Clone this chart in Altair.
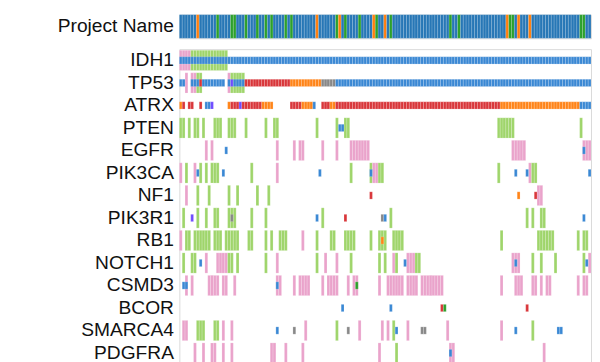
import altair as alt
import pandas as pd

N_SAMPLES = 145
GENES = ["IDH1", "TP53", "ATRX", "PTEN", "EGFR", "PIK3CA", "NF1", "PIK3R1",
         "RB1", "NOTCH1", "CSMD3", "BCOR", "SMARCA4", "PDGFRA"]

# Project Name track: default project colour is blue, with these sample columns
PROJECT_ORANGE = [6, 48, 56, 68, 72, 115, 119, 123]
PROJECT_GREEN = [13, 18, 19, 23, 27, 30, 32, 37, 39, 55, 58, 63, 69, 74, 95, 98,
                 116, 117, 141, 142]

# Copy-number runs (first column, last column, kind)  G = green, L = pink
IDH1_CNV = [(0, 3, "L"), (4, 16, "G")]
TP53_CNV = [(2, 2, "L"), (4, 5, "L"), (6, 7, "G"), (17, 17, "L"), (18, 22, "G")]
ATRX_CNV = []
PTEN_CNV = [(0, 1, "G"), (3, 3, "G"), (5, 6, "G"), (8, 8, "G"), (12, 14, "G"),
            (17, 19, "G"), (23, 23, "G"), (30, 30, "G"), (33, 34, "G"), (48, 48, "G"),
            (55, 55, "G"), (58, 59, "G"), (112, 117, "G"), (141, 141, "G")]
EGFR_CNV = [(9, 9, "L"), (11, 11, "L"), (34, 34, "L"), (40, 40, "L"), (42, 43, "L"),
            (50, 50, "L"), (55, 55, "L"), (60, 66, "L"), (117, 121, "L"), (142, 144, "L")]
PIK3CA_CNV = [(0, 0, "L"), (2, 2, "G"), (5, 5, "L"), (7, 7, "G"), (9, 9, "G"),
              (11, 13, "G"), (25, 25, "G"), (34, 34, "L"), (60, 60, "G"), (67, 67, "G"),
              (68, 69, "L"), (70, 71, "G"), (112, 112, "G"), (123, 123, "L"), (124, 125, "G")]
NF1_CNV = [(2, 2, "L"), (6, 6, "G"), (10, 10, "G"), (17, 17, "G"), (20, 20, "G"),
           (27, 27, "G"), (31, 31, "G"), (126, 127, "L")]
PIK3R1_CNV = [(1, 1, "G"), (6, 6, "G"), (9, 9, "G"), (12, 13, "G"), (17, 19, "G"),
              (25, 25, "G"), (30, 30, "G"), (50, 50, "G"), (74, 74, "G"), (122, 122, "G"),
              (124, 124, "G"), (127, 128, "G")]
RB1_CNV = [(0, 0, "L"), (2, 3, "G"), (5, 10, "G"), (12, 14, "G"), (16, 20, "G"),
           (24, 25, "G"), (30, 30, "G"), (32, 32, "G"), (35, 37, "G"), (43, 43, "L"),
           (48, 48, "G"), (53, 54, "G"), (58, 61, "G"), (67, 67, "G"), (70, 72, "G"),
           (75, 78, "G"), (113, 113, "G"), (126, 131, "G"), (140, 140, "G"), (142, 143, "G")]
NOTCH1_CNV = [(1, 1, "G"), (4, 5, "G"), (9, 9, "L"), (13, 16, "L"), (17, 18, "G"),
              (20, 20, "G"), (30, 30, "G"), (34, 34, "L"), (48, 48, "G"), (51, 51, "L"),
              (55, 55, "L"), (60, 60, "G"), (70, 70, "G"), (72, 72, "G"), (75, 75, "L"),
              (76, 76, "G"), (80, 82, "L"), (83, 84, "G"), (117, 119, "L"), (124, 124, "G"),
              (127, 127, "G"), (132, 132, "G"), (142, 142, "G"), (144, 144, "L")]
CSMD3_CNV = [(2, 2, "L"), (4, 4, "L"), (10, 13, "L"), (15, 16, "L"), (19, 19, "L"),
             (34, 35, "L"), (40, 40, "L"), (42, 45, "L"), (50, 50, "L"), (52, 55, "L"),
             (59, 59, "L"), (61, 62, "L"), (70, 70, "L"), (73, 78, "L"), (80, 83, "L"),
             (85, 92, "L"), (113, 113, "L"), (118, 120, "L"), (124, 125, "L"), (127, 127, "L"),
             (129, 130, "L"), (140, 140, "L"), (142, 143, "L")]
BCOR_CNV = []
SMARCA4_CNV = [(1, 2, "L"), (6, 8, "G"), (12, 13, "G"), (15, 15, "L"), (18, 18, "L"),
               (44, 44, "L"), (55, 55, "G"), (63, 63, "L"), (71, 71, "L"), (73, 73, "L"),
               (75, 75, "G"), (80, 80, "L"), (94, 94, "L"), (113, 113, "L"), (124, 124, "G")]
PDGFRA_CNV = [(5, 5, "L"), (8, 8, "L"), (11, 12, "L"), (15, 15, "L"), (18, 18, "L"),
              (32, 33, "L"), (37, 37, "L"), (43, 43, "L"), (70, 70, "L"), (76, 76, "G"),
              (95, 96, "L"), (128, 128, "L")]

# Mutation runs (first column, last column, kind)
# B = blue, R = red, O = orange, Y = grey, V = violet, E = green
IDH1_MUT = [(0, 144, "B")]
TP53_MUT = [(0, 1, "B"), (4, 6, "B"), (7, 7, "R"), (8, 15, "B"), (17, 17, "B"),
            (18, 18, "V"), (19, 22, "B"), (23, 38, "R"), (39, 49, "O"), (50, 54, "Y"),
            (55, 144, "B")]
ATRX_MUT = [(0, 0, "O"), (1, 1, "R"), (3, 4, "R"), (7, 7, "R"), (9, 10, "B"),
            (11, 11, "V"), (17, 17, "O"), (18, 20, "R"), (21, 21, "V"), (22, 28, "R"),
            (29, 32, "O"), (39, 42, "R"), (43, 46, "O"), (47, 47, "B"), (50, 52, "R"),
            (53, 54, "O"), (55, 112, "R"), (113, 140, "O"), (141, 144, "B")]
PTEN_MUT = [(56, 57, "B")]
EGFR_MUT = [(16, 16, "B"), (142, 142, "B")]
PIK3CA_MUT = [(6, 6, "B"), (15, 15, "B"), (49, 49, "B"), (67, 67, "B"), (118, 118, "B"),
              (122, 122, "B"), (144, 144, "B")]
NF1_MUT = [(67, 67, "R"), (119, 119, "O"), (125, 125, "R")]
PIK3R1_MUT = [(4, 4, "V"), (18, 18, "Y"), (48, 48, "B"), (58, 58, "R"), (71, 71, "Y"),
              (72, 72, "B"), (142, 142, "B")]
RB1_MUT = [(71, 71, "O")]
NOTCH1_MUT = [(7, 7, "B"), (79, 79, "B"), (118, 118, "B"), (143, 143, "B")]
CSMD3_MUT = [(1, 2, "B"), (34, 34, "B"), (62, 62, "E")]
BCOR_MUT = [(57, 57, "B"), (74, 74, "B"), (92, 92, "R"), (93, 93, "E"), (122, 122, "R")]
SMARCA4_MUT = [(34, 34, "B"), (40, 40, "Y"), (59, 59, "Y"), (76, 76, "B"), (85, 86, "Y"),
               (118, 118, "B"), (133, 134, "B")]
PDGFRA_MUT = [(95, 95, "B")]

CODES = ["PB", "PO", "PG", "G", "L", "B", "R", "O", "Y", "V", "E"]
COLORS = ["#2777b6", "#ff7f0e", "#2ca02c", "#9fd56b", "#eaa3cb", "#3a88d4",
          "#d9363a", "#ff8418", "#888888", "#6f4cff", "#2ca02c"]

CNV_TABLES = [IDH1_CNV, TP53_CNV, ATRX_CNV, PTEN_CNV, EGFR_CNV, PIK3CA_CNV, NF1_CNV,
              PIK3R1_CNV, RB1_CNV, NOTCH1_CNV, CSMD3_CNV, BCOR_CNV, SMARCA4_CNV, PDGFRA_CNV]
MUT_TABLES = [IDH1_MUT, TP53_MUT, ATRX_MUT, PTEN_MUT, EGFR_MUT, PIK3CA_MUT, NF1_MUT,
              PIK3R1_MUT, RB1_MUT, NOTCH1_MUT, CSMD3_MUT, BCOR_MUT, SMARCA4_MUT, PDGFRA_MUT]


def expand(gene, runs):
    out = []
    for a, b, k in runs:
        for c in range(a, b + 1):
            out.append({"gene": gene, "s": c, "s2": c + 1, "code": k})
    return out


proj_rows = []
for c in range(N_SAMPLES):
    k = "PB"
    if c in PROJECT_ORANGE:
        k = "PO"
    elif c in PROJECT_GREEN:
        k = "PG"
    proj_rows.append({"track": "Project Name", "s": c, "s2": c + 1, "code": k})
proj_df = pd.DataFrame(proj_rows)

cnv_rows, mut_rows = [], []
for g, t in zip(GENES, CNV_TABLES):
    cnv_rows += expand(g, t)
for g, t in zip(GENES, MUT_TABLES):
    mut_rows += expand(g, t)
cnv_df = pd.DataFrame(cnv_rows)
mut_df = pd.DataFrame(mut_rows)

FONT = "Liberation Sans"
xenc = alt.X("s:Q", scale=alt.Scale(domain=[0, N_SAMPLES], nice=False, zero=True), axis=None)
x2enc = alt.X2("s2:Q")
color = alt.Color("code:N", scale=alt.Scale(domain=CODES, range=COLORS), legend=None)
label_axis = dict(title=None, labelFontSize=19.5, labelFont=FONT, ticks=False, domain=False,
                  labelPadding=6, labelColor="#111111")

proj = alt.Chart(proj_df).mark_rect(stroke="white", strokeWidth=0.6, strokeOpacity=0.25).encode(
    x=xenc, x2=x2enc,
    y=alt.Y("track:N", scale=alt.Scale(paddingInner=0, paddingOuter=0), axis=alt.Axis(**label_axis)),
    color=color,
).properties(width=418, height=24)

yenc = alt.Y("gene:N", sort=GENES,
             scale=alt.Scale(domain=GENES, paddingInner=0.1, paddingOuter=0.05),
             axis=alt.Axis(**label_axis))

cnv_layer = alt.Chart(cnv_df).mark_rect(stroke="white", strokeWidth=0.6, strokeOpacity=0.3).encode(
    x=xenc, x2=x2enc, y=yenc, color=color)
mut_layer = alt.Chart(mut_df).mark_bar(height={"band": 0.36}, stroke="white", strokeWidth=0.6,
                                       strokeOpacity=0.3).encode(
    x=xenc, x2=x2enc, y=yenc, color=color)

genes_chart = alt.layer(cnv_layer, mut_layer).properties(width=418, height=320)

chart = alt.vconcat(proj, genes_chart, spacing=9).properties(
    padding={"left": 49, "top": 3, "right": 0, "bottom": 0}
).configure_view(stroke="#d9d9d9", strokeWidth=1)

chart.save("out.html", embed_options={"renderer": "svg", "actions": False})
